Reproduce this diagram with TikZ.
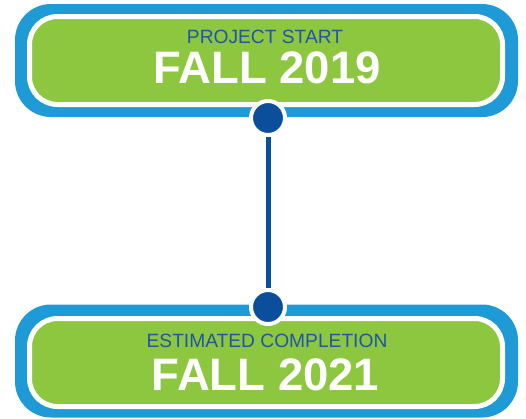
\documentclass[tikz,border=0pt]{standalone}
\usepackage{fontspec}
\setmainfont{Liberation Sans}
\definecolor{outerblue}{HTML}{1E9AD6}
\definecolor{boxgreen}{HTML}{8DC63F}
\definecolor{darkblue}{HTML}{0B4F9C}
\definecolor{textblue}{HTML}{1F56A5}
\begin{document}
\begin{tikzpicture}[x=1pt,y=-1pt,
  outerbox/.style={fill=outerblue, draw=none, rounded corners=36pt, minimum width=503pt, minimum height=113pt, inner sep=0pt},
  innerbox/.style={fill=boxgreen, draw=white, line width=5pt, rounded corners=28pt, minimum width=473pt, minimum height=88pt, inner sep=0pt},
  dot/.style={circle, fill=darkblue, draw=white, line width=4pt, minimum size=34pt, inner sep=0pt},
  smalltext/.style={text=textblue, font=\fontsize{19.2}{19}\selectfont, anchor=base, inner sep=0pt},
  bigtext/.style={text=white, font=\fontsize{45.5}{45}\selectfont\bfseries, anchor=base, inner sep=0pt},
  link/.style={draw=darkblue, line width=5pt}
]
\useasboundingbox (0,0) rectangle (526,418);
\node[outerbox] (top outer) at (266.5,60.5) {};
\node[innerbox] (top inner) at (266,60.5) {};
\node[outerbox] (bot outer) at (266.5,361) {};
\node[innerbox] (bot inner) at (266,362.5) {};
\node[smalltext] (top label) at (265,43) {PROJECT START};
\node[bigtext] (top date) at (267,83) {FALL 2019};
\node[smalltext] (bot label) at (267,347) {ESTIMATED COMPLETION};
\node[bigtext] (bot date) at (265.5,390) {FALL 2021};
\node[dot] (top dot) at (268,118) {};
\node[dot] (bot dot) at (268,307) {};
\path[link] (top dot.south) -- (bot dot.north);
\end{tikzpicture}
\end{document}
